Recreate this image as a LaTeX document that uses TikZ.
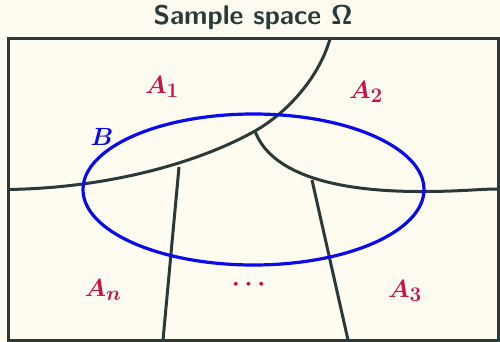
\documentclass[tikz,border=0pt]{standalone}
\usepackage{amsmath,bm}
\usepackage{fontspec}
\begin{document}
\begin{tikzpicture}[x=1pt,y=-1pt,
  part/.style={draw=linec,line width=3pt},
  lab/.style={text=labc,font=\fontsize{28}{32}\selectfont},
]
\definecolor{bgc}{HTML}{FEFCF1}
\definecolor{linec}{HTML}{2A3A3A}
\definecolor{labc}{HTML}{C8124A}
\definecolor{bluec}{HTML}{0A0AF0}
\fill[bgc] (0,0) rectangle (500,342);
\useasboundingbox (0,0) rectangle (500,342);
\node[text=linec,font=\sffamily\bfseries\fontsize{27}{32}\selectfont] (title) at (253,17) {Sample space Ω};
% junctions
\coordinate (j1) at (255,131);
\coordinate (j2) at (179,167);
\coordinate (j3) at (312,180);
\coordinate (bl) at (163,340);
\coordinate (br) at (348,340);
% curves
\draw[part] (8,189.5) .. controls (110,188) and (200,162) .. (j1)
            .. controls (285,114) and (318,80) .. (330,39);
\draw[part] (j1) .. controls (270,172) and (330,192) .. (424,191.5)
            .. controls (460,191.5) and (480,189) .. (498,189);
\draw[part] (j2) -- (bl);
\draw[part] (j3) -- (br);
% ellipse
\draw[draw=bluec,line width=3.2pt] (253.5,189.5) ellipse [x radius=170.5pt, y radius=75.5pt];
% frame
\draw[part] (8,39) rectangle (498,340);
% labels
\node[lab] (a1) at (162,87) {$\bm{A_1}$};
\node[lab] (a2) at (366,92) {$\bm{A_2}$};
\node[lab] (a3) at (405,291) {$\bm{A_3}$};
\node[lab] (an) at (103,290) {$\bm{A_n}$};
\node[lab] (dots) at (251,285) {$\bm{\cdots}$};
\node[text=bluec,font=\fontsize{28}{32}\selectfont] (b) at (102,137) {$\bm{B}$};
\end{tikzpicture}
\end{document}
